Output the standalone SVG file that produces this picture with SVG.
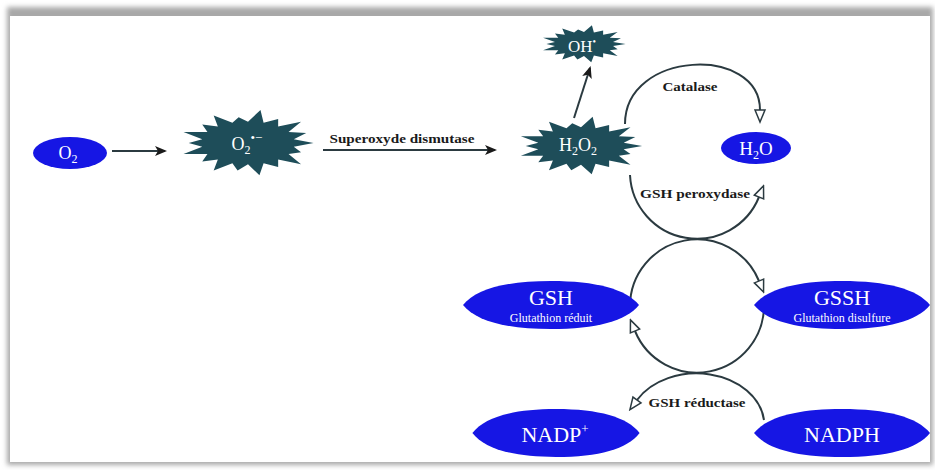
<svg xmlns="http://www.w3.org/2000/svg" width="935" height="470" viewBox="0 0 935 470">
<style>
.blue{fill:#1616e4}
.star{fill:#1e4d59}
.wt{fill:#ffffff;font-family:"Liberation Serif","Times New Roman",serif;text-anchor:middle}
.lbl{fill:#1a1a1a;font-family:"Liberation Serif","Times New Roman",serif;font-weight:bold;text-anchor:middle}
.ln{fill:none;stroke:#2b3a40;stroke-width:2}
</style>
<defs>
<filter id="sh" x="-5%" y="-5%" width="110%" height="110%"><feGaussianBlur stdDeviation="2.5"/></filter>
<marker id="ah" markerUnits="userSpaceOnUse" markerWidth="12" markerHeight="10" viewBox="0 0 12 10" refX="10" refY="5" orient="auto"><path d="M0,0 L12,5 L0,10 L3,5 Z" fill="#1a1a1a"/></marker>
<marker id="tri" markerUnits="userSpaceOnUse" markerWidth="15" markerHeight="13" viewBox="0 0 15 13" refX="1.5" refY="6.5" orient="auto"><path d="M1.5,1.5 L13.5,6.5 L1.5,11.5 Z" fill="#ffffff" stroke="#2b3a40" stroke-width="1.5"/></marker>
<polygon id="star" points="63,0 44,4 51,10 39,12 51,23 29,18 29,26 15,22 11,35 0,23 -10,30 -15,22 -33,30 -29,18 -44,20 -39,12 -62,12 -44,4 -57,0 -44,-4 -62,-12 -39,-12 -44,-20 -29,-18 -33,-30 -15,-22 -9,-28 0,-23 12,-36 15,-22 29,-26 29,-18 51,-23 39,-12 56,-11 44,-4"/>
<path id="lens" d="M-88,0 C-75,-16 -45,-24 0,-24 C45,-24 75,-16 88,0 C75,16 45,24 0,24 C-45,24 -75,16 -88,0 Z"/>
</defs>

<g id="frame">
<rect x="7" y="7" width="926" height="458" fill="#a8a8a8" filter="url(#sh)"/>
<rect x="10" y="16" width="920" height="446" fill="#ffffff"/>
</g>

<g id="connectors">
<path class="ln" d="M112,151 H165" marker-end="url(#ah)"/>
<path class="ln" d="M323,150 H495" stroke-width="2.5" marker-end="url(#ah)"/>
<path class="ln" d="M574,118 L590,68" marker-end="url(#ah)"/>
<path class="ln" d="M625,124 C625,50 760,45 760,110" marker-end="url(#tri)"/>
<path class="ln" d="M630,175 A67,67 0 0 0 759,197" marker-end="url(#tri)"/>
<path class="ln" d="M630,306 A67,67 0 0 1 759,281" marker-end="url(#tri)"/>
<path class="ln" d="M764,306 A67,67 0 0 1 635,331" marker-end="url(#tri)"/>
<path class="ln" d="M764,420 A68,52 0 0 0 637,400" marker-end="url(#tri)"/>
<text class="lbl" x="402" y="143" font-size="13" textLength="145" lengthAdjust="spacingAndGlyphs">Superoxyde  dismutase</text>
<text class="lbl" x="690" y="91" font-size="12" textLength="55" lengthAdjust="spacingAndGlyphs">Catalase</text>
<text class="lbl" x="695" y="198" font-size="13" textLength="110" lengthAdjust="spacingAndGlyphs">GSH peroxydase</text>
<text class="lbl" x="697" y="407" font-size="13" textLength="97" lengthAdjust="spacingAndGlyphs">GSH réductase</text>
</g>

<g id="node-o2">
<ellipse class="blue" cx="70" cy="153" rx="37" ry="16"/>
<text class="wt" x="68" y="159" font-size="18">O<tspan font-size="12" dy="4">2</tspan></text>
</g>

<g id="node-superoxide">
<use href="#star" class="star" transform="translate(248,143) scale(1.04,0.92)"/>
<text class="wt" x="247" y="150" font-size="18">O<tspan font-size="12" dy="4">2</tspan><tspan font-size="13" dy="-12">•−</tspan></text>
</g>

<g id="node-h2o2">
<use href="#star" class="star" transform="translate(581,146) scale(0.97,0.81)"/>
<text class="wt" x="578" y="151" font-size="18">H<tspan font-size="12" dy="4">2</tspan><tspan dy="-4">O</tspan><tspan font-size="12" dy="4">2</tspan></text>
</g>

<g id="node-oh">
<use href="#star" class="star" transform="translate(584,44) scale(0.66,0.52)"/>
<text class="wt" x="582" y="52" font-size="17">OH<tspan font-size="10" dy="-7">•</tspan></text>
</g>

<g id="node-h2o">
<ellipse class="blue" cx="756" cy="148" rx="35" ry="16"/>
<text class="wt" x="756" y="155" font-size="19">H<tspan font-size="12" dy="4">2</tspan><tspan dy="-4">O</tspan></text>
</g>

<g id="node-gsh">
<use href="#lens" class="blue" transform="translate(551,305)"/>
<text class="wt" x="551" y="305" font-size="22">GSH</text>
<text class="wt" x="551" y="322" font-size="12">Glutathion réduit</text>
</g>

<g id="node-gssh">
<use href="#lens" class="blue" transform="translate(842,305)"/>
<text class="wt" x="842" y="305" font-size="22">GSSH</text>
<text class="wt" x="842" y="322" font-size="12">Glutathion disulfure</text>
</g>

<g id="node-nadp">
<use href="#lens" class="blue" transform="translate(556,433) scale(0.95,1)"/>
<text class="wt" x="555" y="442" font-size="22">NADP<tspan font-size="13" dy="-9">+</tspan></text>
</g>

<g id="node-nadph">
<use href="#lens" class="blue" transform="translate(842,433)"/>
<text class="wt" x="842" y="442" font-size="22">NADPH</text>
</g>
</svg>
